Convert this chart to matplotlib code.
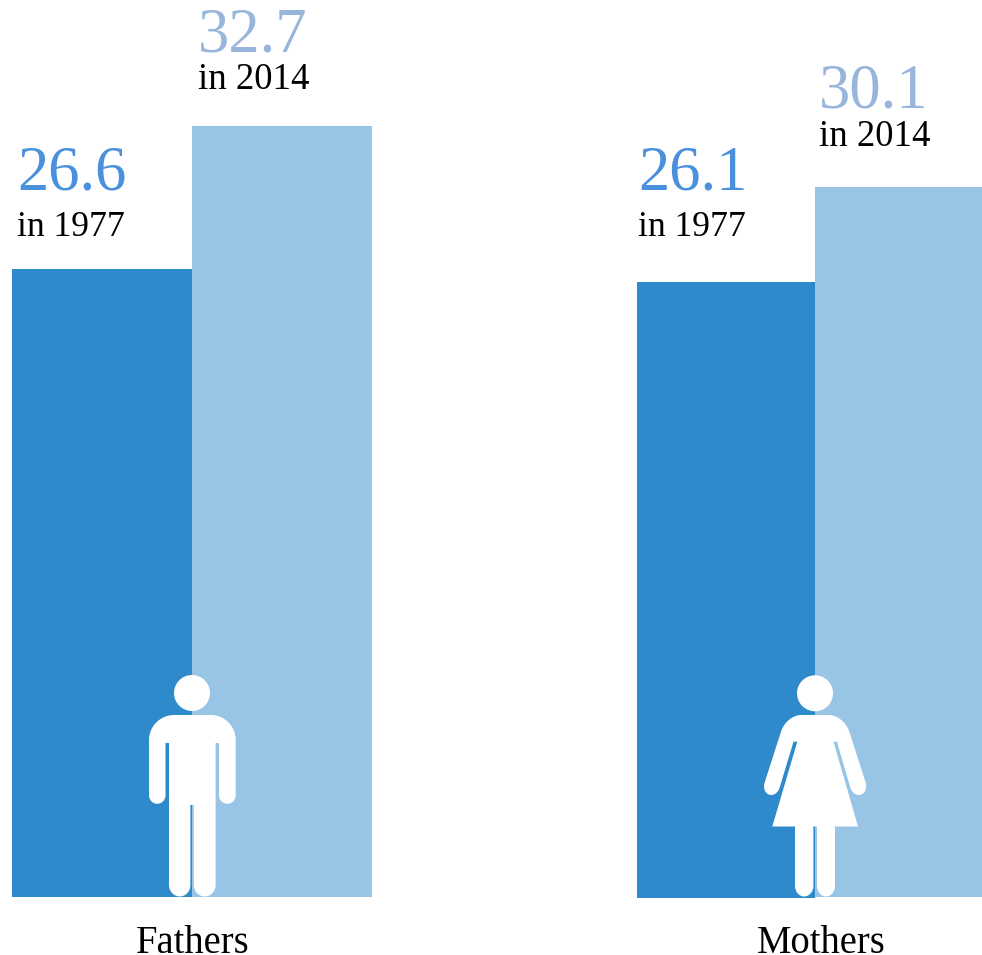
#Importar librerias
import matplotlib
matplotlib.use("Agg")
import matplotlib.pyplot as plt
from matplotlib.path import Path
from matplotlib.patches import PathPatch, Circle

# Datos
grupos = ["Fathers", "Mothers"]
anios = ["1977", "2014"]
edad_1977 = [26.6, 26.1]
edad_2014 = [32.7, 30.1]

# Escala en pixeles (el original no es del todo uniforme)
PX_1977 = 23.62
PX_2014 = 23.58

M, L, C4 = Path.MOVETO, Path.LINETO, Path.CURVE4
K = 0.55


def silueta(ax, puntos):
    # puntos: (x, y) recta, (cx, cy, x, y) arco con esquina en (cx, cy)
    verts, codes = [], []
    for i, p in enumerate(puntos):
        if len(p) == 2:
            verts.append(p)
            codes.append(M if i == 0 else L)
        else:
            x0, y0 = verts[-1]
            cx, cy, x1, y1 = p
            verts += [(x0 + K * (cx - x0), y0 + K * (cy - y0)),
                      (x1 + K * (cx - x1), y1 + K * (cy - y1)),
                      (x1, y1)]
            codes += [C4, C4, C4]
    verts.append(verts[0])
    codes.append(Path.CLOSEPOLY)
    ax.add_patch(PathPatch(Path(verts, codes), fc="white", ec="none", zorder=3))


def hombre(ax):
    ax.add_patch(Circle((192, 693), 18, fc="white", ec="none", zorder=3))
    silueta(ax, [
        (174, 715), (211, 715), (235.7, 715, 235.7, 740), (235.7, 795.5),
        (235.7, 803.8, 227.4, 803.8), (219, 803.8, 219, 795.5), (219, 743), (215.6, 743),
        (215.6, 885), (215.6, 896.5, 204.7, 896.5), (193.8, 896.5, 193.8, 885),
        (193.8, 805), (190.4, 805), (190.4, 885), (190.4, 896.5, 179.7, 896.5),
        (169, 896.5, 169, 885), (169, 743), (165.5, 743), (165.5, 795.5),
        (165.5, 803.8, 157.2, 803.8), (149, 803.8, 149, 795.5), (149, 740), (149, 715, 174, 715),
    ])


def mujer(ax):
    ax.add_patch(Circle((815, 693.3), 18, fc="white", ec="none", zorder=3))
    silueta(ax, [
        (801, 715), (829, 715), (844, 715, 849.3, 731.7), (865.8, 783),
        (868.5, 795, 858.5, 795), (852.5, 795, 850.5, 788), (837, 741.7), (833.5, 741.7),
        (858, 826.5), (835, 826.5), (835, 886), (835, 896.5, 826, 896.5),
        (817, 896.5, 817, 886), (817, 826.5), (813.4, 826.5), (813.4, 886),
        (813.4, 896.5, 804.2, 896.5), (795, 896.5, 795, 886), (795, 826.5), (772.3, 826.5),
        (797.3, 741.7), (793.5, 741.7), (779.5, 788), (777.5, 795, 771.5, 795),
        (761.5, 795, 764.5, 783), (781, 731.7), (786, 715, 801, 715),
    ])


#Main
fig = plt.figure(figsize=(9.82, 9.55), dpi=100)
ax = fig.add_axes([0, 0, 1, 1])
ax.set_xlim(0, 982)
ax.set_ylim(955, 0)
ax.axis("off")
plt.rcParams["font.family"] = ["Liberation Serif", "DejaVu Serif"]

# x izquierda, ancho y base de cada barra
x_1977 = [12, 637]
ancho_1977 = [180, 178]
base_1977 = [897, 898]
x_2014 = [192, 815]
ancho_2014 = [180, 167]
base_2014 = [897, 897]

# posicion de los textos
x_num_1977 = [17, 638]
x_num_2014 = [198, 819]
y_num_1977 = [190, 190]
y_num_2014 = [51, 108]
y_in_1977 = [236, 236]
y_in_2014 = [89, 146]
x_grupo = [193, 821.5]

AZUL = "#2E8ACB"
CELESTE = "#98C5E6"
AZUL_TXT = "#4A90DC"
CELESTE_TXT = "#98B6DB"

for i in range(len(grupos)):
    ax.bar(x_1977[i], -edad_1977[i] * PX_1977, ancho_1977[i], bottom=base_1977[i], align="edge", color=AZUL, zorder=1)
    ax.bar(x_2014[i], -edad_2014[i] * PX_2014, ancho_2014[i], bottom=base_2014[i], align="edge", color=CELESTE, zorder=1)

    ax.text(x_num_1977[i], y_num_1977[i], str(edad_1977[i]), color=AZUL_TXT, fontsize=45, va="baseline")
    ax.text(x_num_1977[i], y_in_1977[i], "in " + anios[0], color="black", fontsize=25.7, va="baseline")
    ax.text(x_num_2014[i], y_num_2014[i], str(edad_2014[i]), color=CELESTE_TXT, fontsize=45, va="baseline")
    ax.text(x_num_2014[i], y_in_2014[i], "in " + anios[1], color="black", fontsize=26.5, va="baseline")
    ax.text(x_grupo[i], 952.5, grupos[i], color="black", fontsize=27.8, ha="center", va="baseline")

hombre(ax)
mujer(ax)

fig.savefig("out.png", dpi=100, facecolor="white")
